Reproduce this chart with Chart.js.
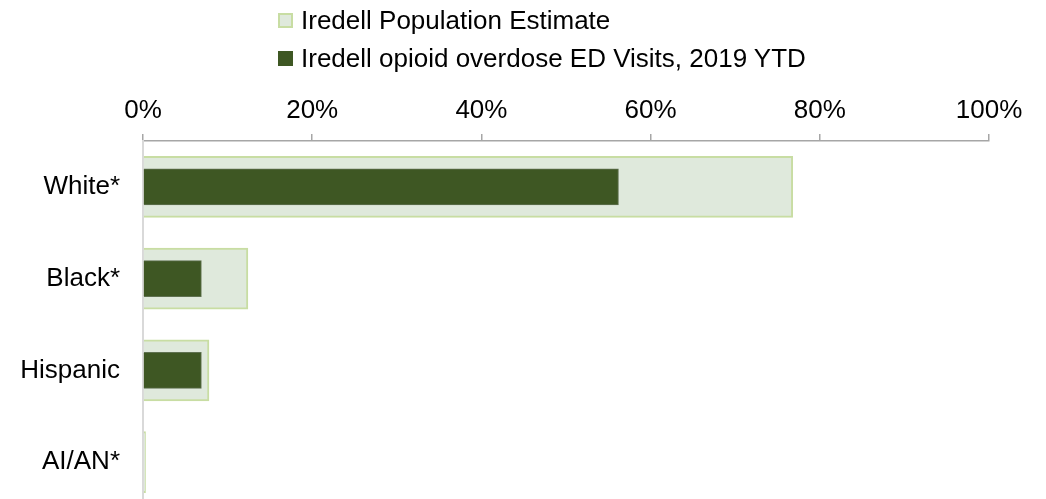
<!DOCTYPE html>
<html>
<head>
<meta charset="utf-8">
<script src="https://cdn.jsdelivr.net/npm/chart.js@4.4.1/dist/chart.umd.min.js"></script>
<style>
  html, body { margin: 0; padding: 0; background: #fff; overflow: hidden; }
  #wrap { position: relative; width: 1046px; height: 510px; }
  #legend { position: absolute; left: 278px; top: 1px; font-family: "Liberation Sans", Arial, sans-serif; font-size: 26px; color: #000; }
  .item { display: flex; align-items: center; height: 38px; }
  .box { width: 15px; height: 15px; margin-right: 8px; box-sizing: border-box; }
</style>
</head>
<body>
<div id="wrap">
  <canvas id="chart" width="1046" height="510"></canvas>
  <div id="legend"></div>
</div>
<script>
// 데이터
const categories = ['White*', 'Black*', 'Hispanic', 'AI/AN*'];
const popEstimate = [76.8, 12.4, 7.8, 0.3];
const edVisits = [56.2, 6.9, 6.9, 0];
const tickValues = [0, 20, 40, 60, 80, 100];
const seriesLabels = ['Iredell Population Estimate', 'Iredell opioid overdose ED Visits, 2019 YTD'];

const popFill = '#dfe9dc';
const popBorder = '#c8dda3';
const edFill = '#3e5723';
const edBorder = '#5f7150';
const fontFamily = '"Liberation Sans", Arial, sans-serif';

const ctx = document.getElementById('chart').getContext('2d');

const chart = new Chart(ctx, {
    type: 'bar',
    data: {
        labels: categories,
        datasets: [{
            label: seriesLabels[0],
            data: popEstimate,
            backgroundColor: popFill,
            borderColor: popBorder,
            borderWidth: 2,
            barThickness: 61,
            grouped: false,
            order: 1
        }, {
            label: seriesLabels[1],
            data: edVisits,
            backgroundColor: edFill,
            borderColor: edBorder,
            borderWidth: 1,
            barThickness: 36,
            grouped: false,
            order: 0
        }]
    },
    options: {
        indexAxis: 'y',
        responsive: false,
        animation: false,
        devicePixelRatio: 1,
        layout: { padding: { top: 90, right: 57, bottom: 2, left: 0 } },
        scales: {
            x: {
                position: 'top',
                min: 0,
                max: 100,
                afterBuildTicks: (scale) => { scale.ticks = tickValues.map(v => ({ value: v })); },
                afterFit: (scale) => { scale.height = 51; },
                ticks: {
                    padding: 8,
                    color: '#000',
                    font: { family: fontFamily, size: 26 },
                    callback: (v) => v + '%'
                },
                grid: {
                    drawOnChartArea: false,
                    drawTicks: true,
                    tickLength: 7,
                    color: '#a6a6a6',
                    lineWidth: 1.5
                },
                border: { color: '#a6a6a6', width: 1.5 }
            },
            y: {
                // 라벨 높이 때문에 생기는 위/아래 여백 제거
                afterFit: (scale) => {
                    scale.width = 143;
                    scale.paddingTop = 0;
                    scale.paddingBottom = 0;
                },
                ticks: {
                    padding: 23,
                    color: '#000',
                    font: { family: fontFamily, size: 26 }
                },
                grid: { display: false, drawTicks: false },
                border: { display: true, color: '#d9d9d9', width: 2 }
            }
        },
        plugins: {
            legend: { display: false },
            tooltip: { enabled: false }
        }
    }
});

// 범례 (세로로 두 줄)
const legendEl = document.getElementById('legend');
chart.data.datasets.forEach((ds, i) => {
    const item = document.createElement('div');
    item.className = 'item';
    const box = document.createElement('span');
    box.className = 'box';
    box.style.background = ds.backgroundColor;
    // 진한 쪽은 테두리 없이 채우기만
    box.style.border = '2px solid ' + (i === 0 ? ds.borderColor : ds.backgroundColor);
    const txt = document.createElement('span');
    txt.textContent = ds.label;
    item.appendChild(box);
    item.appendChild(txt);
    legendEl.appendChild(item);
});
</script>
</body>
</html>
